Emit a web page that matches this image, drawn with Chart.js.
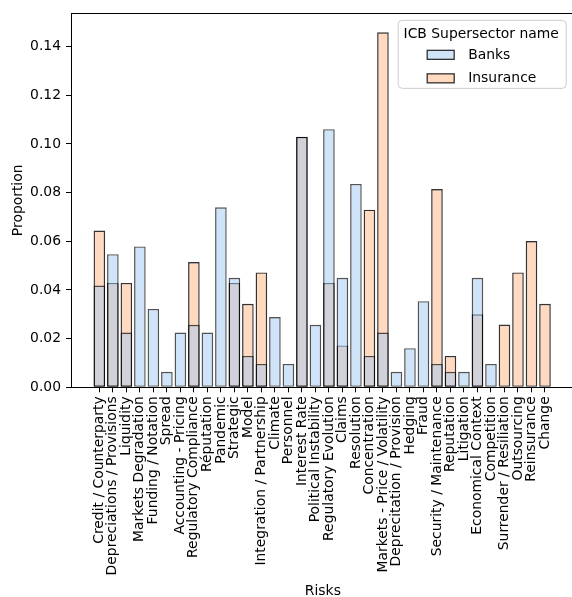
<!DOCTYPE html>
<html>
<head>
<meta charset="utf-8">
<title>Risks by ICB Supersector</title>
<script src="https://cdn.jsdelivr.net/npm/chart.js@4/dist/chart.umd.min.js"></script>
<style>
  html, body { margin: 0; padding: 0; background: #fff; overflow: hidden; width: 572px; height: 597px; }
  canvas { display: block; }
</style>
</head>
<body>
<canvas id="chart" width="580" height="600"></canvas>
<script>
// Risk categories along the x axis
const categories = [
  'Credit / Counterparty', 'Depreciations / Provisions', 'Liquidity', 'Markets Degradation',
  'Funding / Notation', 'Spread', 'Accounting - Pricing', 'Regulatory Compliance', 'Réputation',
  'Pandemic', 'Strategic', 'Model', 'Integration / Partnership', 'Climate', 'Personnel',
  'Interest Rate', 'Political Instability', 'Regulatory Evolution', 'Claims', 'Resolution',
  'Concentration', 'Markets - Price / Volatility', 'Deprecitation / Provision', 'Hedging', 'Fraud',
  'Security / Maintenance', 'Reputation', 'Litigation', 'Economical Context', 'Competition',
  'Surrender / Resiliation', 'Outsourcing', 'Reinsurance', 'Change'
];

// Share of mentions per risk, by supersector
const banks = [
  0.0418, 0.0547, 0.0225, 0.0579, 0.0322, 0.0064, 0.0225, 0.0257, 0.0225, 0.0740,
  0.0450, 0.0129, 0.0096, 0.0289, 0.0096, 0.1029, 0.0257, 0.1061, 0.0450, 0.0836,
  0.0129, 0.0225, 0.0064, 0.0161, 0.0354, 0.0096, 0.0064, 0.0064, 0.0450, 0.0096,
  0, 0, 0, 0
];
const insurance = [
  0.0644, 0.0429, 0.0429, 0, 0, 0, 0, 0.0515, 0, 0,
  0.0429, 0.0343, 0.0472, 0, 0, 0.1030, 0, 0.0429, 0.0172, 0,
  0.0730, 0.1459, 0, 0, 0, 0.0815, 0.0129, 0, 0.0300, 0,
  0.0258, 0.0472, 0.0601, 0.0343
];

const seriesNames = ['Banks', 'Insurance'];
const legendTitle = 'ICB Supersector name';
const yTicks = [0, 0.02, 0.04, 0.06, 0.08, 0.10, 0.12, 0.14];
const yMax = 0.1537;

const FONT = 'DejaVu Sans';
const FSIZE = 13.9;
const fills = ['rgba(161,201,244,0.5)', 'rgba(255,180,130,0.5)'];
const edges = ['rgba(0,0,0,0.68)', 'rgba(0,0,0,0.8)'];

// Top spine of the axes frame
const topSpine = {
  id: 'topSpine',
  afterDatasetsDraw(chart) {
    const { ctx, chartArea: a } = chart;
    ctx.save();
    ctx.strokeStyle = '#000';
    ctx.lineWidth = 1;
    const y = Math.round(a.top) + 0.5;
    ctx.beginPath();
    ctx.moveTo(a.left, y);
    ctx.lineTo(a.right + 2, y);
    ctx.stroke();
    ctx.restore();
  }
};

// Framed legend with a title in the upper right corner of the axes
const boxLegend = {
  id: 'boxLegend',
  afterDraw(chart) {
    const { ctx, chartArea: a } = chart;
    const x0 = a.right - 176.5, y0 = a.top + 7, w = 168, h = 68;
    ctx.save();
    ctx.beginPath();
    ctx.roundRect(x0, y0, w, h, 4);
    ctx.fillStyle = 'rgba(255,255,255,0.8)';
    ctx.fill();
    ctx.strokeStyle = '#cccccc';
    ctx.lineWidth = 1;
    ctx.stroke();

    ctx.font = `${FSIZE}px "${FONT}"`;
    ctx.fillStyle = '#000';
    ctx.textBaseline = 'middle';
    ctx.textAlign = 'center';
    ctx.fillText(legendTitle, x0 + 83, y0 + 14);

    chart.data.datasets.forEach((ds, i) => {
      const cy = y0 + 34.5 + i * 23.5;
      const px = x0 + 29, pw = 27, ph = 9;
      ctx.fillStyle = '#fff';
      ctx.fillRect(px, cy - ph / 2, pw, ph);
      ctx.fillStyle = ds.backgroundColor;
      ctx.fillRect(px, cy - ph / 2, pw, ph);
      ctx.strokeStyle = 'rgba(0,0,0,0.8)';
      ctx.lineWidth = 1.3;
      ctx.strokeRect(px, cy - ph / 2, pw, ph);
      ctx.fillStyle = '#000';
      ctx.textAlign = 'left';
      ctx.fillText(ds.label, x0 + 70, cy + 0.5);
    });
    ctx.restore();
  }
};

const toPoints = (vals) => vals.map((v, i) => ({ x: i, y: v }));

new Chart(document.getElementById('chart'), {
  type: 'bar',
  data: {
    datasets: [
      { label: seriesNames[0], data: toPoints(banks), backgroundColor: fills[0], borderColor: edges[0] },
      { label: seriesNames[1], data: toPoints(insurance), backgroundColor: fills[1], borderColor: edges[1] }
    ]
  },
  options: {
    responsive: false,
    animation: false,
    devicePixelRatio: 1,
    grouped: false,
    barPercentage: 0.86,
    categoryPercentage: 1.0,
    borderWidth: 1.4,
    borderSkipped: false,
    layout: { padding: { top: 13, left: 0, right: 5.3, bottom: 0 } },
    plugins: { legend: { display: false }, tooltip: { enabled: false } },
    scales: {
      x: {
        type: 'linear',
        min: -2.1,
        max: 35.2,
        offset: false,
        afterBuildTicks(scale) { scale.ticks = categories.map((_, i) => ({ value: i })); },
        afterFit(scale) { scale.height = 212.7; },
        grid: { display: true, offset: false, drawOnChartArea: false, drawTicks: true, tickLength: 5, color: '#000', lineWidth: 1 },
        border: { display: true, color: '#000', width: 1 },
        ticks: {
          autoSkip: false,
          minRotation: 90,
          maxRotation: 90,
          padding: 4,
          color: '#000',
          font: { family: FONT, size: FSIZE },
          callback: (v) => categories[v]
        },
        title: { display: true, text: 'Risks', color: '#000', font: { family: FONT, size: FSIZE }, padding: { top: 0, bottom: 0 } }
      },
      y: {
        type: 'linear',
        min: 0,
        max: yMax,
        afterBuildTicks(scale) { scale.ticks = yTicks.map(v => ({ value: v })); },
        afterFit(scale) { scale.width = 71; },
        grid: { display: true, drawOnChartArea: false, drawTicks: true, tickLength: 5, color: '#000', lineWidth: 1 },
        border: { display: true, color: '#000', width: 1 },
        ticks: {
          padding: 5,
          color: '#000',
          font: { family: FONT, size: FSIZE },
          callback: (v) => Number(v).toFixed(2)
        },
        title: { display: true, text: 'Proportion', color: '#000', font: { family: FONT, size: FSIZE }, padding: { top: 10, bottom: 0 } }
      }
    }
  },
  plugins: [topSpine, boxLegend]
});
</script>
</body>
</html>
